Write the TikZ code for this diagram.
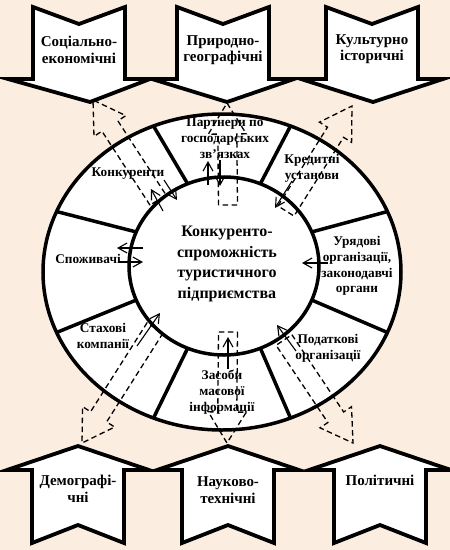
\documentclass[tikz,border=0pt]{standalone}
\usepackage{fontspec}
\setmainfont{Liberation Serif}
\usetikzlibrary{positioning, arrows.meta, calc}

\definecolor{paper}{RGB}{251,237,224}

\tikzset{
  factor/.style={draw=black, line width=3.8pt, fill=white, line join=miter},
  ringline/.style={draw=black, line width=3.5pt},
  dashblock/.style={draw=black, line width=1.3pt, dash pattern=on 5.5pt off 3.5pt},
  link/.style={black, line width=1.1pt, -{Straight Barb[length=9pt, width=10pt]}},
  seglabel/.style={font=\fontsize{13.3}{15.8}\selectfont\bfseries, align=center, inner sep=0pt},
  factorlabel/.style={font=\fontsize{15}{16.5}\selectfont\bfseries, align=center, inner sep=0pt},
  corelabel/.style={font=\fontsize{16}{20.5}\selectfont\bfseries, align=center, inner sep=0pt}
}

% dashed block arrow from #1 (tail) to #2 (tip)
\newcommand{\flowarrow}[2]{%
  \draw[dashblock] let \p1=(#1), \p3=($(#2)-(#1)$),
    \n1={atan2(\y3,\x3)}, \n2={veclen(\x3,\y3)} in
    [shift={(\p1)}, rotate=\n1]
    (0,-9.5) -- (\n2-31,-9.5) -- (\n2-31,-19) -- (\n2,0) -- (\n2-31,19)
    -- (\n2-31,9.5) -- (0,9.5) -- cycle;
}

\begin{document}
\begin{tikzpicture}[x=1pt, y=-1pt]
  \useasboundingbox (0,0) rectangle (450,550);
  \fill[paper] (0,0) rectangle (450,550);

  % factors above the ring
  \foreach \cx/\tip in {79/90, 223/227, 372/373}
    \draw[factor] (\cx-46,7) -- (\cx,24) -- (\cx+46,7) -- (\cx+46,79) -- (\cx+71,79)
      -- (\tip,102) -- (\cx-71,79) -- (\cx-46,79) -- cycle;
  % factors below the ring
  \foreach \cx in {78,228,380}
    \draw[factor] (\cx-46,543) -- (\cx,525) -- (\cx+46,543) -- (\cx+46,470) -- (\cx+71,470)
      -- (\cx,446) -- (\cx-71,470) -- (\cx-46,470) -- cycle;

  % ring of segments
  \coordinate (co) at (222,272);
  \coordinate (ci) at (224,266);
  \draw[ringline, fill=white] (co) ellipse [x radius=179, y radius=158];
  \draw[ringline, fill=white] (ci) ellipse [x radius=95, y radius=89];
  \foreach \a in {22.5,67.5,...,337.5}
    \draw[ringline] ($(ci)+(\a:95 and 89)$) -- ($(co)+(\a:179 and 158)$);

  % influence of the enterprise on the factors
  \coordinate (t1) at (158,200); \coordinate (h1) at (93,100);
  \coordinate (t2) at (228,205); \coordinate (h2) at (227,103);
  \coordinate (t3) at (286,211); \coordinate (h3) at (352,106);
  \coordinate (t4) at (155,328); \coordinate (h4) at (82,443);
  \coordinate (t5) at (228,332); \coordinate (h5) at (227,443);
  \coordinate (t6) at (284,340); \coordinate (h6) at (353,443);
  \foreach \i in {1,...,6} \flowarrow{t\i}{h\i};

  % links between segments and the core
  \draw[link] (163,211) -- (151,189);
  \draw[link] (164,180) -- (177,200);
  \draw[link] (208,185) -- (208,161);
  \draw[link] (220,160) -- (220,186);
  \draw[link] (292,181) -- (275,208);
  \draw[link] (328,263) -- (302,263);
  \draw[link] (296,351) -- (277,325);
  \draw[link] (228,369) -- (228,337);
  \draw[link] (137,346) -- (160,313);
  \draw[link] (143,248) -- (117,248);
  \draw[link] (118,262) -- (143,262);

  % texts
  \node[factorlabel] (soc) at (79,50) {Соціально-\\економічні};
  \node[factorlabel] (nat) at (223,50) {Природно-\\географічні};
  \node[factorlabel] (cult) at (372,49) {Культурно\\історичні};
  \node[factorlabel] (demo) at (78,489) {Демографі-\\чні};
  \node[factorlabel] (sci) at (228,490) {Науково-\\технічні};
  \node[factorlabel] (pol) at (380,480) {Політичні};

  \node[corelabel] (core) at (227,264) {Конкуренто-\\спроможність\\туристичного\\підприємства};

  \node[seglabel] (partner) at (225,138) {Партнери по\\господарських\\зв’язках};
  \node[seglabel] (credit) at (312,168) {Кредитні\\установи};
  \node[seglabel] (gov) at (357,266) {Урядові\\організації,\\законодавчі\\органи};
  \node[seglabel] (tax) at (328,348) {Податкові\\організації};
  \node[seglabel] (media) at (222,392) {Засоби\\масової\\інформації};
  \node[seglabel] (insur) at (103,336) {Стахові\\компанії};
  \node[seglabel] (buyer) at (88,259) {Споживачі};
  \node[seglabel] (rival) at (128,174) {Конкуренти};
\end{tikzpicture}
\end{document}
